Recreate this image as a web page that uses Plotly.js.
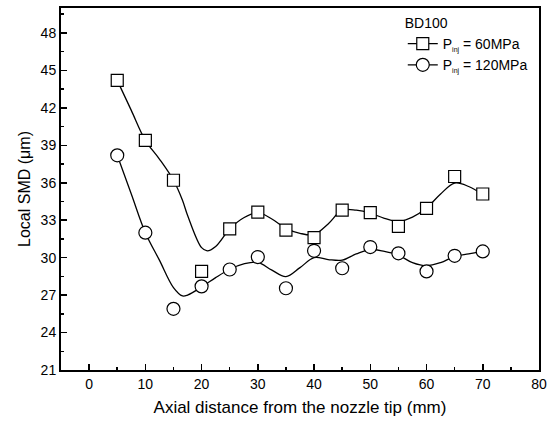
<!DOCTYPE html>
<html>
<head>
<meta charset="utf-8">
<script src="https://cdn.plot.ly/plotly-3.0.1.min.js"></script>
<style>html,body{margin:0;padding:0;background:#fff;}#chart{width:557px;height:424px;}</style>
</head>
<body>
<div id="chart"></div>
<script>
// Measured points
const distance = [5, 10, 15, 20, 25, 30, 35, 40, 45, 50, 55, 60, 65, 70];
const smd60  = [44.2, 39.4, 36.2, 28.9, 32.3, 33.65, 32.2, 31.6, 33.8, 33.6, 32.5, 33.95, 36.5, 35.1];
const smd120 = [38.2, 32.0, 25.9, 27.7, 29.05, 30.05, 27.55, 30.55, 29.15, 30.85, 30.35, 28.9, 30.15, 30.5];

// Smoothed fit curves
const fitX   = [5, 7.5, 10, 12.5, 15, 16.6, 17.5, 20, 21, 22.5, 25, 27.5, 30, 32.5, 35, 37.5, 40, 42.5, 45, 47.5, 50, 52.5, 55, 57.5, 60, 62.5, 65, 67.5, 70];
const fit60  = [44.2, 41.8, 39.4, 37.9, 36.2, 34.6, 33.4, 30.8, 30.55, 30.9, 32.3, 33.2, 33.6, 33.1, 32.35, 31.95, 31.85, 32.7, 33.8, 33.8, 33.57, 33.15, 32.9, 33.25, 33.97, 35.1, 35.97, 35.7, 35.05];
const fit120 = [38.2, 35.1, 32.0, 29.8, 27.6, 26.93, 27.0, 27.65, 27.95, 28.4, 29.07, 29.5, 29.62, 29.0, 28.48, 29.2, 30.0, 29.85, 29.8, 30.3, 30.65, 30.5, 30.2, 29.6, 29.35, 29.6, 30.1, 30.3, 30.5];

const legendTitle = 'BD100';
const sub = '<sub><span style="font-size:7px">inj</span></sub>';
const name60  = 'P' + sub + ' = 60MPa';
const name120 = 'P' + sub + ' = 120MPa';

const black = '#000';
const traces = [
  {x: fitX, y: fit60, mode: 'lines', line: {color: black, width: 1.3, shape: 'spline', smoothing: 1}, showlegend: false, hoverinfo: 'skip'},
  {x: fitX, y: fit120, mode: 'lines', line: {color: black, width: 1.3, shape: 'spline', smoothing: 1}, showlegend: false, hoverinfo: 'skip'},
  {x: distance, y: smd60, mode: 'markers', marker: {symbol: 'square', size: 12, color: '#fff', line: {color: black, width: 1.2}}, showlegend: false},
  {x: distance, y: smd120, mode: 'markers', marker: {symbol: 'circle', size: 13, color: '#fff', line: {color: black, width: 1.2}}, showlegend: false},
  {x: [null], y: [null], name: name60, mode: 'lines+markers', line: {color: black, width: 1.3}, marker: {symbol: 'square', size: 12, color: '#fff', line: {color: black, width: 1.2}}},
  {x: [null], y: [null], name: name120, mode: 'lines+markers', line: {color: black, width: 1.3}, marker: {symbol: 'circle', size: 13, color: '#fff', line: {color: black, width: 1.2}}}
];

const font = {family: 'Liberation Sans, Arial, sans-serif', color: black};
const layout = {
  width: 557, height: 424,
  margin: {l: 61, r: 18, t: 8, b: 54},
  paper_bgcolor: '#fff', plot_bgcolor: '#fff',
  font: Object.assign({size: 13}, font),
  showlegend: true,
  legend: {
    x: 0.715, y: 0.995, xanchor: 'left', yanchor: 'top',
    bgcolor: 'rgba(0,0,0,0)', borderwidth: 0,
    font: Object.assign({size: 14}, font),
    title: {text: legendTitle, font: Object.assign({size: 14}, font)},
    tracegroupgap: 0, itemwidth: 30
  },
  xaxis: {
    range: [-5, 80], tick0: 0, dtick: 10,
    ticks: 'inside', ticklen: 6, tickwidth: 1.5, tickcolor: black,
    minor: {dtick: 5, tick0: 0, ticks: 'inside', ticklen: 3, tickwidth: 1.5, tickcolor: black},
    showline: true, linewidth: 2, linecolor: black, mirror: true,
    showgrid: false, zeroline: false,
    tickfont: Object.assign({size: 14}, font),
    title: {text: 'Axial distance from the nozzle tip (mm)', font: Object.assign({size: 17}, font), standoff: 10}
  },
  yaxis: {
    range: [21, 50], tick0: 21, dtick: 3,
    ticks: 'inside', ticklen: 6, tickwidth: 1.5, tickcolor: black,
    minor: {dtick: 1.5, tick0: 21, ticks: 'inside', ticklen: 3, tickwidth: 1.5, tickcolor: black},
    showline: true, linewidth: 2, linecolor: black, mirror: true,
    showgrid: false, zeroline: false,
    tickfont: Object.assign({size: 14}, font),
    title: {text: 'Local SMD (\u03bcm)', font: Object.assign({size: 16}, font), standoff: 6}
  }
};

Plotly.newPlot('chart', traces, layout, {staticPlot: true, displayModeBar: false});
</script>
</body>
</html>
